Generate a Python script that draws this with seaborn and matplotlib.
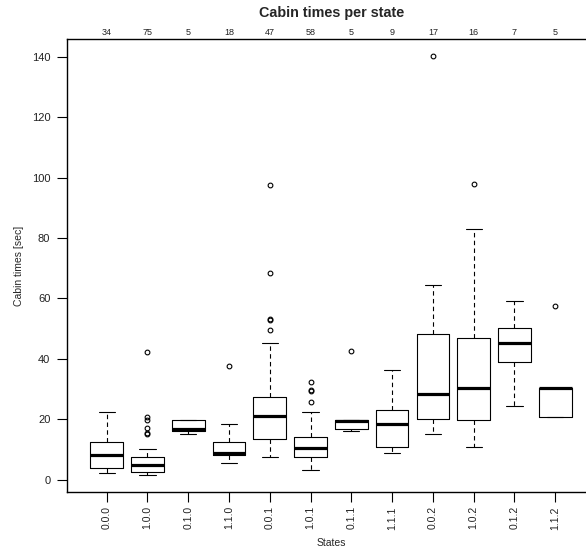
import matplotlib
matplotlib.use("Agg")
import matplotlib.pyplot as plt
import matplotlib.transforms as mtransforms
import seaborn as sns

# ---- data ----
states = ["0.0.0", "1.0.0", "0.1.0", "1.1.0", "0.0.1", "1.0.1",
          "0.1.1", "1.1.1", "0.0.2", "1.0.2", "0.1.2", "1.1.2"]
counts = [34, 75, 5, 18, 47, 58, 5, 9, 17, 16, 7, 5]
whislo = [2.1, 1.5, 15.2, 5.4, 7.5, 3.1, 16.2, 8.7, 15.2, 10.9, 24.3, 20.8]
q1     = [3.8, 2.6, 16.2, 8.1, 13.4, 7.5, 16.9, 10.8, 20.0, 19.7, 38.9, 20.8]
med    = [8.1, 5.0, 16.7, 8.8, 21.1, 10.4, 19.3, 18.3, 28.3, 30.4, 45.2, 30.4]
q3     = [12.3, 7.4, 19.9, 12.4, 27.4, 14.0, 19.8, 22.9, 48.3, 46.8, 50.3, 30.4]
whishi = [22.3, 10.3, 19.9, 18.3, 45.2, 22.3, 19.8, 36.4, 64.5, 82.9, 59.1, 30.4]
fliers = [
    [],
    [42.4, 20.7, 19.6, 17.0, 15.5, 15.2],
    [],
    [37.5],
    [97.6, 68.3, 53.3, 53.0, 49.5],
    [32.3, 29.6, 29.2, 25.6],
    [42.5],
    [],
    [140.3],
    [97.9],
    [],
    [57.5],
]
yticks = [0, 20, 40, 60, 80, 100, 120, 140]

sns.set_style("ticks")
plt.rcParams["font.family"] = ["Liberation Sans", "DejaVu Sans"]

W, H = 586, 551
fig = plt.figure(figsize=(W / 100, H / 100), dpi=100)
ax = fig.add_axes([67 / W, 1 - 492.3 / H, (596 - 67) / W, (492.3 - 39.3) / H])

stats = []
for i in range(len(states)):
    stats.append(dict(label=states[i], whislo=whislo[i], q1=q1[i], med=med[i],
                      q3=q3[i], whishi=whishi[i], fliers=fliers[i]))

ax.bxp(stats, positions=list(range(len(states))), widths=0.8,
       showfliers=True, patch_artist=False,
       boxprops=dict(color="black", linewidth=0.8),
       medianprops=dict(color="black", linewidth=2.3, solid_capstyle="butt"),
       whiskerprops=dict(color="black", linewidth=0.8, linestyle=(0, (4, 3))),
       capprops=dict(color="black", linewidth=0.8),
       capwidths=0.4,
       flierprops=dict(marker="o", markersize=3.4, markerfacecolor="none",
                       markeredgecolor="black", markeredgewidth=0.8,
                       linestyle="none"))

ax.set_xlim(-0.973, 12.0)
ax.set_ylim(-4.2, 145.8)
ax.set_yticks(yticks)
ax.set_yticklabels([str(v) for v in yticks])
ax.set_xticks(range(len(states)))
ax.set_xticklabels(states, rotation=90, va="top", ha="center")

ax.tick_params(axis="both", direction="out", length=7, width=0.8,
               color="black", labelsize=8, labelcolor="#222222", pad=5)
ax.tick_params(axis="x", labelsize=7.5, pad=3)

for s in ["left", "bottom", "top"]:
    ax.spines[s].set_visible(True)
    ax.spines[s].set_linewidth(1.0)
    ax.spines[s].set_color("black")
ax.spines["right"].set_visible(False)

trans = mtransforms.blended_transform_factory(ax.transData, ax.transAxes)
for i, c in enumerate(counts):
    ax.text(i, 1.0 + 2.5 / (492.3 - 39.3), str(c), transform=trans,
            ha="center", va="bottom", fontsize=6.5, color="#222222")

ax.set_title("Cabin times per state", fontsize=10.4, fontweight="bold", pad=16)
ax.set_xlabel("States", fontsize=7.5, labelpad=6)
ax.set_ylabel("Cabin times [sec]", fontsize=7.5, labelpad=5.5)
ax.grid(False)

fig.savefig("out.png", dpi=100)
